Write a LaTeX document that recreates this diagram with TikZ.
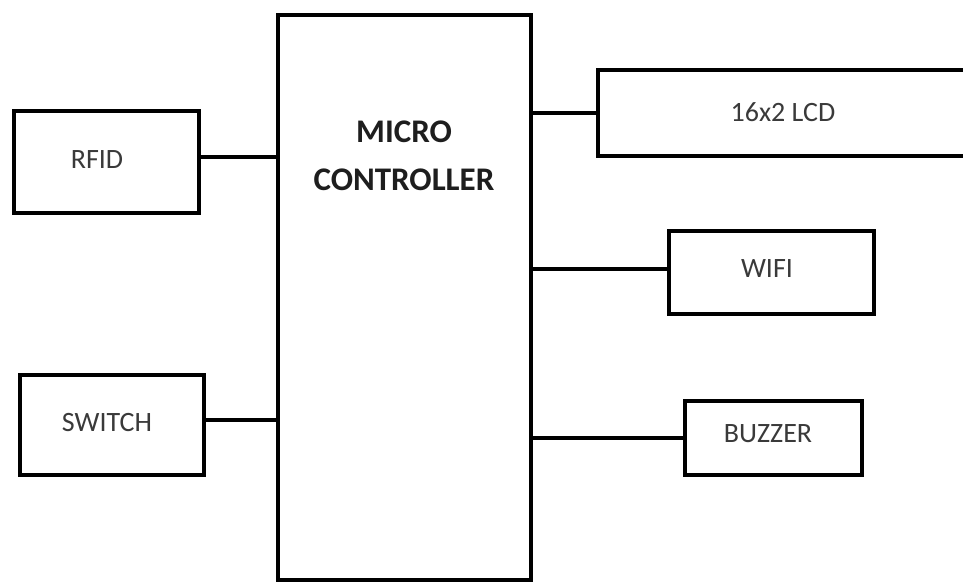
\documentclass[tikz,border=0pt]{standalone}
\usepackage{fontspec}
\setmainfont{Carlito}
\definecolor{txt}{HTML}{3A3A3A}
\definecolor{btxt}{HTML}{1E1E1E}
\begin{document}
\begin{tikzpicture}[x=1pt,y=-1pt,
  blk/.style={draw=black,line width=4.5pt,rectangle,inner sep=0pt,outer sep=0pt,fill=white},
  lbl/.style={text=txt,font=\fontsize{28}{34}\selectfont,inner sep=0pt},
  blbl/.style={text=btxt,font=\fontsize{33}{48}\selectfont\bfseries,inner sep=0pt,align=center},
  wire/.style={line width=4.5pt,draw=black}]
\useasboundingbox (0,0) rectangle (963,584);
\fill[white] (0,0) rectangle (963,584);
\clip (0,0) rectangle (963,584);
% blocks
\node[blk,minimum width=253pt,minimum height=565pt] (mc) at (404.5,297.5) {};
\node[blk,minimum width=185pt,minimum height=102pt] (rfid) at (106.5,162) {};
\node[blk,minimum width=184pt,minimum height=100pt] (sw) at (112,425) {};
\node[blk,minimum width=402pt,minimum height=86pt] (lcd) at (799,113) {};
\node[blk,minimum width=205pt,minimum height=83pt] (wifi) at (771.5,272.5) {};
\node[blk,minimum width=177pt,minimum height=74pt] (buz) at (773.5,438) {};
% labels
\node[blbl] (mct) at (404,156) {MICRO\\CONTROLLER};
\node[lbl] (rfidt) at (97,160) {RFID};
\node[lbl] (swt) at (107,423) {SWITCH};
\node[lbl] (lcdt) at (783,112) {16x2 LCD};
\node[lbl] (wifit) at (767,269) {WIFI};
\node[lbl] (buzt) at (768,434) {BUZZER};
% connectors
\draw[wire] ([yshift=5pt]rfid.east) -- ([yshift=5pt]rfid.east -| mc.west);
\draw[wire] ([yshift=5pt]sw.east) -- ([yshift=5pt]sw.east -| mc.west);
\draw[wire] (lcd.west -| mc.east) -- (lcd.west);
\draw[wire] ([yshift=3.5pt]wifi.west -| mc.east) -- ([yshift=3.5pt]wifi.west);
\draw[wire] (buz.west -| mc.east) -- (buz.west);
\end{tikzpicture}
\end{document}
